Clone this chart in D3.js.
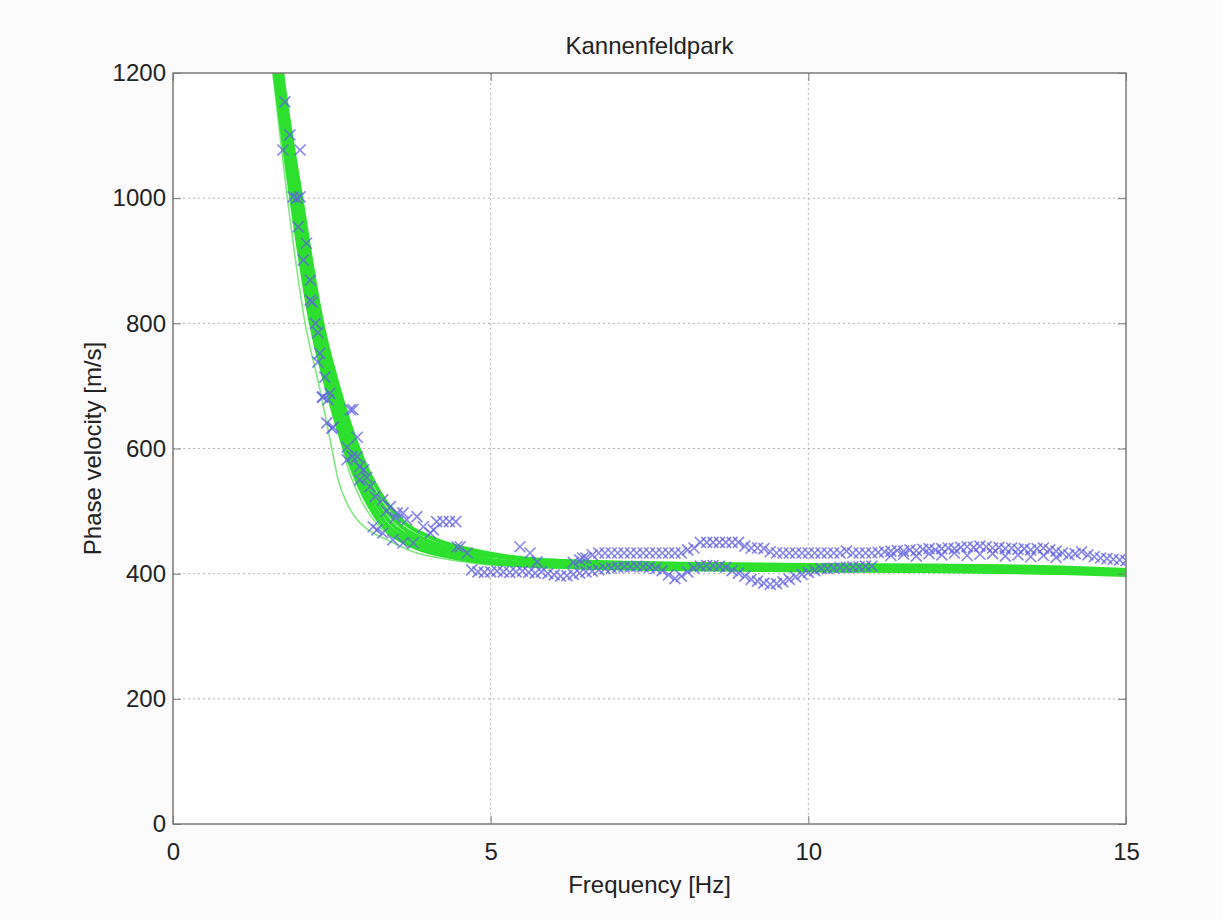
<!DOCTYPE html>
<html>
<head>
<meta charset="utf-8">
<script src="https://cdn.jsdelivr.net/npm/d3@7"></script>
<style>
  body { margin: 0; background: #fbfbfb; font-family: "Liberation Sans", Arial, sans-serif; }
  .grid line { stroke: #b4b4b4; stroke-dasharray: 2,3; }
  .tick text { fill: #222; }
</style>
</head>
<body>
<script>
//-----------------Data----------------
const xTicks = [0, 5, 10, 15];
const yTicks = [0, 200, 400, 600, 800, 1000, 1200];

// model dispersion curves (frequency Hz, phase velocity m/s)
const modelA = [[1.49,1300],[1.60,1200],[1.86,1000],[2.17,800],[2.41,700],[2.70,600],[3.0,525],[3.27,480],[3.7,447],[4.35,427],[5,417],[6,411],[8,407],[10,405],[12,404],[14,401],[15,398]];
const modelB = [[1.52,1300],[1.63,1200],[1.90,1000],[2.21,800],[2.45,700],[2.75,600],[3.06,525],[3.34,481],[3.8,449],[4.5,429],[5,420],[6,413],[8,409],[10,407],[12,406],[14,403],[15,400]];
const modelC = [[1.55,1300],[1.66,1200],[1.94,1000],[2.25,800],[2.50,700],[2.80,600],[3.12,526],[3.41,483],[3.9,451],[4.6,431],[5,422],[6,415],[8,411],[10,409],[12,408],[14,405],[15,402]];
const modelD = [[1.58,1300],[1.69,1200],[1.98,1000],[2.30,800],[2.55,700],[2.86,600],[3.18,528],[3.49,485],[4.0,453],[4.7,433],[5.2,426],[6,418],[8,413],[10,411],[12,410],[14,407],[15,404]];
const modelE = [[1.61,1300],[1.72,1200],[2.02,1000],[2.35,800],[2.60,700],[2.92,600],[3.25,530],[3.57,488],[4.1,456],[4.9,434],[6,421],[8,416],[10,414],[12,413],[14,410],[15,406]];
const modelThin1 = [[1.45,1300],[1.57,1200],[1.80,1000],[2.08,800],[2.3,700],[2.42,640],[2.5,600],[2.6,550],[2.75,510],[2.9,486],[3.1,468],[3.37,454],[3.78,435],[4.5,420],[5,414],[6,410],[8,406],[10,404],[12,403],[15,398]];
const modelThin2 = [[1.5,1300],[1.62,1200],[1.86,1000],[2.18,800],[2.4,700],[2.62,620],[2.75,570],[2.95,520],[3.2,480],[3.6,450],[4.3,428],[5,418],[8,409],[15,402]];

// picked dispersion points, steep part and scattered transition
const pickedFreq = [1.76,1.84,1.73,2.0,1.89,2.0,1.95,1.97,2.1,2.05,2.16,2.16,2.19,2.24,2.28,2.31,2.28,2.39,2.35,2.44,2.36,2.47,2.42,2.5,2.52,2.79,2.83,2.9,2.74,2.82,2.9,2.94,3.0,3.05,3.1,3.18,3.3,3.42,3.21,3.3,3.15,3.46,3.62,3.78,3.53,3.62,3.68,3.84,3.94,4.05,4.1,4.15,4.25,4.35,4.45,4.47,4.52,4.63,2.74,2.94,3.36,3.5,5.46,5.62,5.73,6.45];
const pickedVel  = [1154,1101,1077,1077,1002,1002,1000,954,928,901,869,837,834,800,785,752,738,714,682,678,682,688,641,632,634,662,662,618,602,587,587,571,566,554,539,523,518,507,470,465,475,454,449,449,497,497,486,491,475,465,470,483,483,483,483,443,443,433,582,550,500,490,443,433,419,425];

// upper branch, 6.3 - 15.0 Hz every 0.1 Hz
const upperFreq = [6.3,6.4,6.5,6.6,6.7,6.8,6.9,7.0,7.1,7.2,7.3,7.4,7.5,7.6,7.7,7.8,7.9,8.0,8.1,8.2,8.3,8.4,8.5,8.6,8.7,8.8,8.9,9.0,9.1,9.2,9.3,9.4,9.5,9.6,9.7,9.8,9.9,10.0,10.1,10.2,10.3,10.4,10.5,10.6,10.7,10.8,10.9,11.0,11.1,11.2,11.3,11.4,11.5,11.6,11.7,11.8,11.9,12.0,12.1,12.2,12.3,12.4,12.5,12.6,12.7,12.8,12.9,13.0,13.1,13.2,13.3,13.4,13.5,13.6,13.7,13.8,13.9,14.0,14.1,14.2,14.3,14.4,14.5,14.6,14.7,14.8,14.9,15.0];
const upperVel  = [418,422,425,430,433,433,433,433,433,433,433,433,433,433,433,433,433,433,438,441,450,450,450,450,450,450,450,444,441,441,440,435,433,433,433,433,433,433,433,433,433,433,433,436,433,433,433,433,434,435,436,437,436,438,437,439,440,438,440,441,440,442,443,442,444,443,441,442,440,441,439,440,438,440,441,438,436,433,430,432,435,430,427,425,424,423,422,421];

// second scatter around the upper branch, 11.3 - 14.0 Hz
const midFreq = [11.3,11.5,11.7,11.9,12.1,12.3,12.5,12.7,12.9,13.1,13.3,13.5,13.7,13.9];
const midVel  = [429,431,428,432,430,433,429,431,432,428,430,427,429,426];

// lower branch, 4.7 - 11.0 Hz every 0.1 Hz
const lowerFreq = [4.7,4.8,4.9,5.0,5.1,5.2,5.3,5.4,5.5,5.6,5.7,5.8,5.9,6.0,6.1,6.2,6.3,6.4,6.5,6.6,6.7,6.8,6.9,7.0,7.1,7.2,7.3,7.4,7.5,7.6,7.7,7.8,7.9,8.0,8.1,8.2,8.3,8.4,8.5,8.6,8.7,8.8,8.9,9.0,9.1,9.2,9.3,9.4,9.5,9.6,9.7,9.8,9.9,10.0,10.1,10.2,10.3,10.4,10.5,10.6,10.7,10.8,10.9,11.0];
const lowerVel  = [406,403,402,403,404,403,402,403,404,402,401,403,400,398,396,397,399,401,403,404,406,408,409,410,411,411,412,411,410,408,405,398,392,396,403,409,412,413,413,412,410,405,401,396,391,388,385,383,384,387,391,395,399,402,405,408,408,409,410,410,411,411,412,412];

//-----------------Chart----------------
const width = 1223, height = 920;
const plotLeft = 173, plotRight = 1126, plotTop = 73, plotBottom = 824;

const svg = d3.select("body").append("svg").attr("width", width).attr("height", height);

const x = d3.scaleLinear().domain([0, 15]).range([plotLeft, plotRight]);
const y = d3.scaleLinear().domain([0, 1200]).range([plotBottom, plotTop]);

svg.append("rect").attr("x", plotLeft).attr("y", plotTop)
  .attr("width", plotRight - plotLeft).attr("height", plotBottom - plotTop).attr("fill", "#fff");

// grid
svg.append("g").attr("class", "grid")
  .selectAll("line").data(xTicks.slice(1, -1)).enter().append("line")
  .attr("x1", d => x(d)).attr("x2", d => x(d)).attr("y1", plotTop).attr("y2", plotBottom);
svg.append("g").attr("class", "grid")
  .selectAll("line").data(yTicks.slice(1, -1)).enter().append("line")
  .attr("y1", d => y(d)).attr("y2", d => y(d)).attr("x1", plotLeft).attr("x2", plotRight);

svg.append("clipPath").attr("id", "plot").append("rect")
  .attr("x", plotLeft).attr("y", plotTop).attr("width", plotRight - plotLeft).attr("height", plotBottom - plotTop);

const plot = svg.append("g").attr("clip-path", "url(#plot)");

const line = d3.line().x(d => x(d[0])).y(d => y(d[1])).curve(d3.curveMonotoneX);

[modelThin1, modelThin2].forEach(m => {
  plot.append("path").attr("d", line(m)).attr("fill", "none")
    .attr("stroke", "#7ee87e").attr("stroke-width", 1.6);
});
[modelA, modelB, modelC, modelD, modelE].forEach(m => {
  plot.append("path").attr("d", line(m)).attr("fill", "none")
    .attr("stroke", "#2ee02e").attr("stroke-width", 4);
});

// blue x markers
const picks = [];
pickedFreq.forEach((f, i) => picks.push([f, pickedVel[i]]));
lowerFreq.forEach((f, i) => picks.push([f, lowerVel[i]]));
upperFreq.forEach((f, i) => picks.push([f, upperVel[i]]));
midFreq.forEach((f, i) => picks.push([f, midVel[i]]));

const s = 5.5;
plot.append("g").selectAll("path").data(picks).enter().append("path")
  .attr("d", d => {
    const px = x(d[0]), py = y(d[1]);
    return `M${px - s},${py - s}L${px + s},${py + s}M${px - s},${py + s}L${px + s},${py - s}`;
  })
  .attr("stroke", "#6060e4").attr("stroke-opacity", 0.75).attr("stroke-width", 1.7).attr("fill", "none");

// axes (ticks inside on all four sides)
const tickLen = 8;
const axisColor = "#7a7a7a";
const fontSize = 24;

const xb = svg.append("g").attr("transform", `translate(0,${plotBottom})`)
  .call(d3.axisBottom(x).tickValues(xTicks).tickFormat(d3.format("d")).tickSizeInner(-tickLen).tickSizeOuter(0).tickPadding(19));
const xt = svg.append("g").attr("transform", `translate(0,${plotTop})`)
  .call(d3.axisTop(x).tickValues(xTicks).tickSizeInner(-tickLen).tickSizeOuter(0).tickFormat(""));
const yl = svg.append("g").attr("transform", `translate(${plotLeft},0)`)
  .call(d3.axisLeft(y).tickValues(yTicks).tickFormat(d3.format("d")).tickSizeInner(-tickLen).tickSizeOuter(0).tickPadding(7));
const yr = svg.append("g").attr("transform", `translate(${plotRight},0)`)
  .call(d3.axisRight(y).tickValues(yTicks).tickSizeInner(-tickLen).tickSizeOuter(0).tickFormat(""));

[xb, xt, yl, yr].forEach(a => {
  a.select(".domain").remove();
  a.selectAll(".tick line").attr("stroke", axisColor);
  a.selectAll("text").style("font-size", fontSize + "px").style("font-family", "'Liberation Sans', Arial, sans-serif");
});

svg.append("rect").attr("x", plotLeft).attr("y", plotTop)
  .attr("width", plotRight - plotLeft).attr("height", plotBottom - plotTop)
  .attr("fill", "none").attr("stroke", axisColor).attr("stroke-width", 1.5);

// labels
svg.append("text").attr("x", (plotLeft + plotRight) / 2).attr("y", 54)
  .attr("text-anchor", "middle").style("font-size", fontSize + "px").attr("fill", "#222")
  .text("Kannenfeldpark");
svg.append("text").attr("x", (plotLeft + plotRight) / 2).attr("y", 893)
  .attr("text-anchor", "middle").style("font-size", fontSize + "px").attr("fill", "#222")
  .text("Frequency [Hz]");
svg.append("text").attr("transform", `translate(101,${(plotTop + plotBottom) / 2}) rotate(-90)`)
  .attr("text-anchor", "middle").style("font-size", fontSize + "px").attr("fill", "#222")
  .text("Phase velocity [m/s]");
</script>
</body>
</html>
